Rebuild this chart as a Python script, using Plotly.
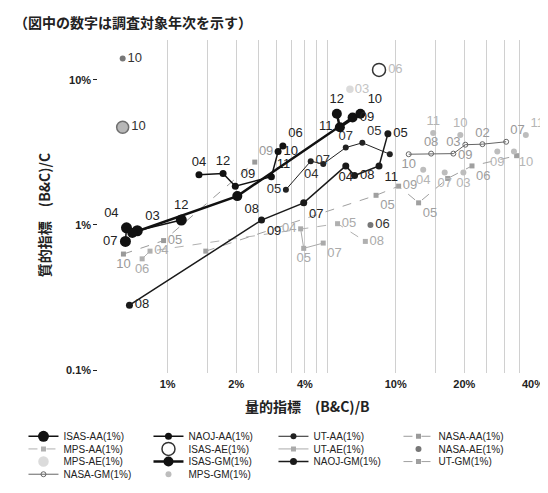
import plotly.graph_objects as go

# ---------------- data (x = (B&C)/B [%], y = (B&C)/C [%], labels = survey year) -------------
isas_aa_x = [0.653, 0.66, 0.736, 1.148]
isas_aa_y = [0.77, 0.955, 0.912, 1.08]
isas_aa_yr = ["07", "04", "03", "12"]

naoj_aa_x = [1.372, 1.75, 1.98, 2.85, 3.05, 3.2]
naoj_aa_y = [2.22, 2.26, 1.85, 2.15, 3.2, 3.5]
naoj_aa_yr = ["04", "12", "09", "11", "10", "06"]

ut_aa_x = [3.3, 4.24, 4.81, 6.04, 7.14, 9.42]
ut_aa_y = [1.75, 2.75, 2.63, 3.41, 3.68, 3.07]
ut_aa_yr = ["05", "07", "04", "07", "05", ""]

nasa_aa_x = [0.64, 0.96, 2.41]
nasa_aa_y = [0.63, 0.78, 2.71]
nasa_aa_yr = ["10", "05", "09"]

mps_aa_x = [0.773, 0.837, 5.56, 7.36]
mps_aa_y = [0.584, 0.66, 1.02, 0.77]
mps_aa_yr = ["06", "04", "05", "08"]

isas_ae_x = [8.45]
isas_ae_y = [11.7]
isas_ae_yr = ["06"]

ut_ae_x = [3.83, 3.95, 4.81]
ut_ae_y = [0.94, 0.69, 0.75]
ut_ae_yr = ["04", "05", "07"]

nasa_ae_x = [0.635, 7.75]
nasa_ae_y = [14.0, 1.0]
nasa_ae_yr = ["10", "06"]

mps_ae_x = [6.3, 0.635]
mps_ae_y = [8.6, 4.71]
mps_ae_yr = ["03", "10"]

isas_gm_x = [0.70, 2.02, 6.47, 7.0, 5.69, 5.52]
isas_gm_y = [0.88, 1.58, 5.5, 5.84, 4.71, 5.84]
isas_gm_yr = ["", "08", "09", "10", "11", "12"]

naoj_gm_x = [0.68, 2.58, 3.95, 6.04, 6.6, 8.45, 9.24]
naoj_gm_y = [0.28, 1.08, 1.42, 2.55, 2.19, 2.55, 4.24]
naoj_gm_yr = ["08", "09", "07", "04", "08", "11", "05"]

ut_gm_x = [1.47, 8.2, 10.3, 12.6, 16.9, 21.6, 33.9]
ut_gm_y = [0.66, 1.6, 1.85, 1.42, 2.09, 2.55, 3.0]
ut_gm_yr = ["", "05", "09", "05", "", "06", ""]

nasa_gm_x = [11.4, 14.3, 17.9, 20.2, 24.0, 30.5]
nasa_gm_y = [3.07, 3.1, 3.1, 3.57, 3.6, 3.74]
nasa_gm_yr = ["10", "08", "03", "09", "02", "07"]

mps_gm_x = [37.2, 14.6, 19.2, 13.2, 16.4, 19.8, 27.9, 33.0]
mps_gm_y = [4.17, 4.3, 4.17, 2.4, 2.3, 2.3, 3.2, 3.2]
mps_gm_yr = ["11", "11", "10", "04", "07", "03", "09", "10"]

x_tick_vals = [1, 1.5, 2, 2.5, 3, 3.5, 4, 4.5, 5, 10, 15, 20, 25, 30, 35, 40]
x_tick_text = ["1%", "", "2%", "", "", "", "4%", "", "", "10%", "", "20%", "", "", "", "40%"]
y_tick_vals = [0.1, 1, 10]
y_tick_text = ["0.1%", "1%", "10%"]

# ---------------- styles ----------------
LBL = "Liberation Sans"
series = [
    # name, x, y, labels, mode, line, marker, text colour, textpositions, legend, zorder
    ("ISAS-AA(1%)", isas_aa_x, isas_aa_y, isas_aa_yr, "lines+markers+text",
     dict(color="#111", width=1.5), dict(symbol="circle", size=11, color="#111"), "#222",
     ["middle left", "top left", "top right", "top center"], "legend", 3),
    ("NAOJ-AA(1%)", naoj_aa_x, naoj_aa_y, naoj_aa_yr, "lines+markers+text",
     dict(color="#111", width=1.5), dict(symbol="circle", size=7, color="#111"), "#222",
     ["top center", "top center", "top right", "top right", "middle right", "top right"], "legend", 3),
    ("UT-AA(1%)", ut_aa_x, ut_aa_y, ut_aa_yr, "lines+markers+text",
     dict(color="#222", width=1), dict(symbol="circle", size=6, color="#222"), "#333",
     ["middle left", "middle right", "bottom left", "top center", "top right", "middle right"], "legend", 2),
    ("NASA-AA(1%)", nasa_aa_x, nasa_aa_y, nasa_aa_yr, "lines+markers+text",
     dict(color="#9a9a9a", width=1, dash="dash"), dict(symbol="square", size=5, color="#9a9a9a"), "#999",
     ["bottom center", "middle right", "top right"], "legend", 1),
    ("MPS-AA(1%)", mps_aa_x, mps_aa_y, mps_aa_yr, "lines+markers+text",
     dict(color="#b0b0b0", width=1, dash="dash"), dict(symbol="square", size=5, color="#b0b0b0"), "#aaa",
     ["bottom center", "middle right", "middle right", "middle right"], "legend2", 1),
    ("ISAS-AE(1%)", isas_ae_x, isas_ae_y, isas_ae_yr, "markers+text",
     None, dict(symbol="circle-open", size=13, color="#333", line=dict(width=1.5)), "#bbb",
     ["middle right"], "legend2", 2),
    ("UT-AE(1%)", ut_ae_x, ut_ae_y, ut_ae_yr, "lines+markers+text",
     dict(color="#aaa", width=1), dict(symbol="square", size=5, color="#aaa"), "#aaa",
     ["middle left", "bottom center", "bottom right"], "legend2", 1),
    ("NASA-AE(1%)", nasa_ae_x, nasa_ae_y, nasa_ae_yr, "markers+text",
     None, dict(symbol="circle", size=6, color="#777"), "#333",
     ["middle right", "middle right"], "legend2", 1),
    ("MPS-AE(1%)", mps_ae_x, mps_ae_y, mps_ae_yr, "markers+text",
     None, dict(symbol="circle", size=[6, 12], color=["#ccc", "#9a9a9a"],
                line=dict(color=["#ccc", "#333"], width=1.5)), ["#c4c4c4", "#333"],
     ["middle right", "middle right"], "legend3", 1),
    ("ISAS-GM(1%)", isas_gm_x, isas_gm_y, isas_gm_yr, "lines+markers+text",
     dict(color="#111", width=2.5), dict(symbol="circle", size=10, color="#111"), "#222",
     ["middle right", "bottom right", "middle right", "top right", "middle left", "top center"], "legend3", 3),
    ("NAOJ-GM(1%)", naoj_gm_x, naoj_gm_y, naoj_gm_yr, "lines+markers+text",
     dict(color="#1a1a1a", width=1.5), dict(symbol="circle", size=7, color="#1a1a1a"), "#222",
     ["middle right", "bottom right", "bottom right", "bottom center", "middle right", "bottom right", "middle right"],
     "legend3", 3),
    ("UT-GM(1%)", ut_gm_x, ut_gm_y, ut_gm_yr, "lines+markers+text",
     dict(color="#a0a0a0", width=1, dash="dash"), dict(symbol="square", size=5, color="#a0a0a0"), "#a0a0a0",
     ["middle right", "bottom right", "middle right", "bottom right", "bottom center", "bottom right", "bottom right"],
     "legend3", 1),
    ("NASA-GM(1%)", nasa_gm_x, nasa_gm_y, nasa_gm_yr, "lines+markers+text",
     dict(color="#666", width=1), dict(symbol="circle-open", size=5, color="#666"), "#999",
     ["bottom center", "top center", "top center", "bottom center", "top center", "top right"], "legend4", 1),
    ("MPS-GM(1%)", mps_gm_x, mps_gm_y, mps_gm_yr, "markers+text",
     None, dict(symbol="circle", size=6, color="#bdbdbd"), "#b5b5b5",
     ["top right", "top center", "top center", "bottom center", "bottom center", "bottom center",
      "bottom center", "bottom right"], "legend4", 1),
]

fig = go.Figure()
for name, xs, ys, yr, mode, line, marker, tcol, tpos, leg, z in series:
    kw = dict(x=xs, y=ys, text=yr, name=name, mode=mode, marker=marker,
              textposition=tpos, textfont=dict(family=LBL, size=13, color=tcol),
              cliponaxis=False, legend=leg, zorder=z)
    if line is not None:
        kw["line"] = line
    fig.add_trace(go.Scatter(**kw))

leg_common = dict(orientation="h", xanchor="left", yanchor="middle", x=-0.174,
                  bgcolor="rgba(0,0,0,0)", entrywidth=80, entrywidthmode="pixels",
                  font=dict(family="Liberation Sans Narrow, Liberation Sans", size=10, color="#222"),
                  itemwidth=30, tracegroupgap=0)

fig.update_layout(
    width=548, height=493,
    margin=dict(l=91, r=13, t=32, b=118),
    paper_bgcolor="white", plot_bgcolor="white",
    legend=dict(leg_common, y=-0.19),
    legend2=dict(leg_common, y=-0.228),
    legend3=dict(leg_common, y=-0.266),
    legend4=dict(leg_common, y=-0.304),
    xaxis=dict(type="log", range=[-0.301, 1.602], tickvals=x_tick_vals, ticktext=x_tick_text,
               showgrid=True, gridcolor="#d0d0d0", gridwidth=1, showline=True, linecolor="#222",
               linewidth=1.5, ticks="", zeroline=False,
               tickfont=dict(family="Liberation Sans", size=11, color="#222", weight="bold")),
    yaxis=dict(type="log", range=[-1.02, 1.274], tickvals=y_tick_vals, ticktext=y_tick_text,
               showgrid=False, showline=True, linecolor="#222", linewidth=1.5,
               ticks="outside", ticklen=4, tickcolor="#222",
               tickfont=dict(family="Liberation Sans", size=11, color="#222", weight="bold")),
    annotations=[
        dict(text="<b>（図中の数字は調査対象年次を示す）</b>", xref="paper", yref="paper",
             x=-0.2, y=1.055, xanchor="left", yanchor="middle", showarrow=False,
             font=dict(family="Noto Sans CJK JP", size=14, color="#222")),
        dict(text="<b>量的指標　(B&amp;C)/B</b>", xref="paper", yref="paper",
             x=0.48, y=-0.1, xanchor="center", yanchor="middle", showarrow=False,
             font=dict(family="Noto Sans CJK JP", size=14, color="#222")),
        dict(text="<b>質的指標　(B&amp;C)/C</b>", xref="paper", yref="paper", textangle=-90,
             x=-0.126, y=0.475, xanchor="center", yanchor="middle", showarrow=False,
             font=dict(family="Noto Sans CJK JP", size=14, color="#222")),
    ],
)

fig.write_html("out.html")
